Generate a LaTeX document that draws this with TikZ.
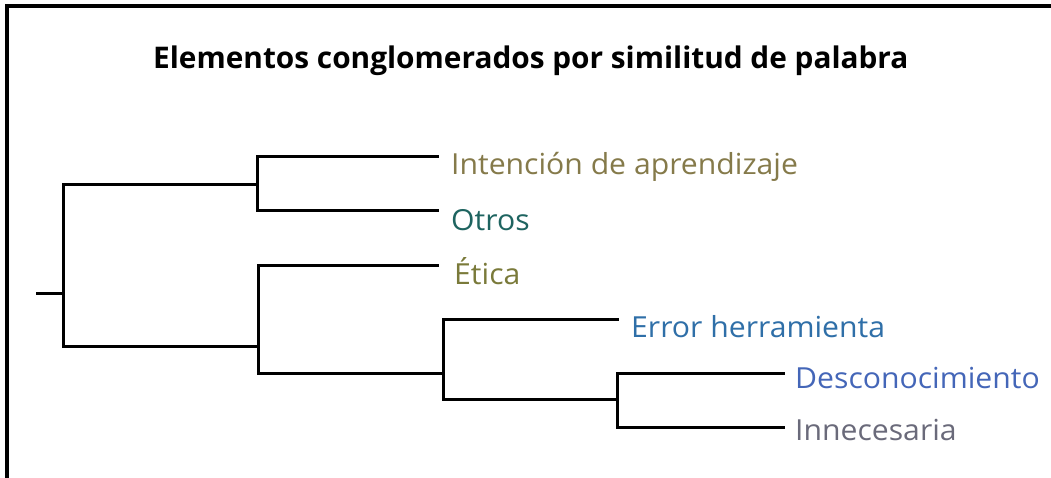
\documentclass[tikz,border=0pt]{standalone}
\usepackage{fontspec}
\setmainfont{Open Sans}
\newfontfamily\labelfont[FakeStretch=1.04]{Open Sans}
\definecolor{cIntencion}{HTML}{857A4A}
\definecolor{cOtros}{HTML}{1E6460}
\definecolor{cEtica}{HTML}{7A7A3A}
\definecolor{cError}{HTML}{2F6FA8}
\definecolor{cDescon}{HTML}{4466B8}
\definecolor{cInnec}{HTML}{6A6A7A}
\tikzset{
  branch/.style={line width=3pt, line join=miter, line cap=rect},
  frameline/.style={line width=3.5pt},
  leaflabel/.style={anchor=base west, inner sep=0pt, font=\labelfont\fontsize{29}{31}\selectfont},
  titlelabel/.style={anchor=base west, inner sep=0pt, font=\fontsize{29.8}{33}\selectfont\bfseries}
}
\begin{document}
\begin{tikzpicture}[x=1pt,y=-1pt]
\useasboundingbox (0,0) rectangle (1051,478);
\fill[white] (0,0) rectangle (1051,478);
% frame
\coordinate (fb) at (7,478);
\coordinate (fc) at (7,6);
\coordinate (fr) at (1051,6);
\draw[frameline] (fb) -- (fc) -- (fr);
% title
\node[titlelabel] (title) at (153,69) {Elementos conglomerados por similitud de palabra};
% junctions
\coordinate (r0) at (37,293);
\coordinate (R) at (63,293);
\coordinate (A) at (257,185);
\coordinate (B) at (258,346);
\coordinate (C) at (443,373);
\coordinate (D) at (617,399);
% leaf ends
\coordinate (l1) at (437,157);
\coordinate (l2) at (437,211);
\coordinate (l3) at (437,265);
\coordinate (l4) at (617,319);
\coordinate (l5) at (783,373);
\coordinate (l6) at (783,427);
% tree
\draw[branch] (r0) -- (R);
\draw[branch] (A) -| (R) |- (B);
\draw[branch] (l1) -| (A) |- (l2);
\draw[branch] (l3) -| (B) |- (C);
\draw[branch] (l4) -| (C) |- (D);
\draw[branch] (l5) -| (D) |- (l6);
% labels
\node[leaflabel, text=cIntencion] (t1) at (451,175) {Intención de aprendizaje};
\node[leaflabel, text=cOtros] (t2) at (451,231) {Otros};
\node[leaflabel, text=cEtica] (t3) at (454,284) {Ética};
\node[leaflabel, text=cError] (t4) at (631,337) {Error herramienta};
\node[leaflabel, text=cDescon] (t5) at (795,388) {Desconocimiento};
\node[leaflabel, text=cInnec] (t6) at (795,440) {Innecesaria};
\end{tikzpicture}
\end{document}
